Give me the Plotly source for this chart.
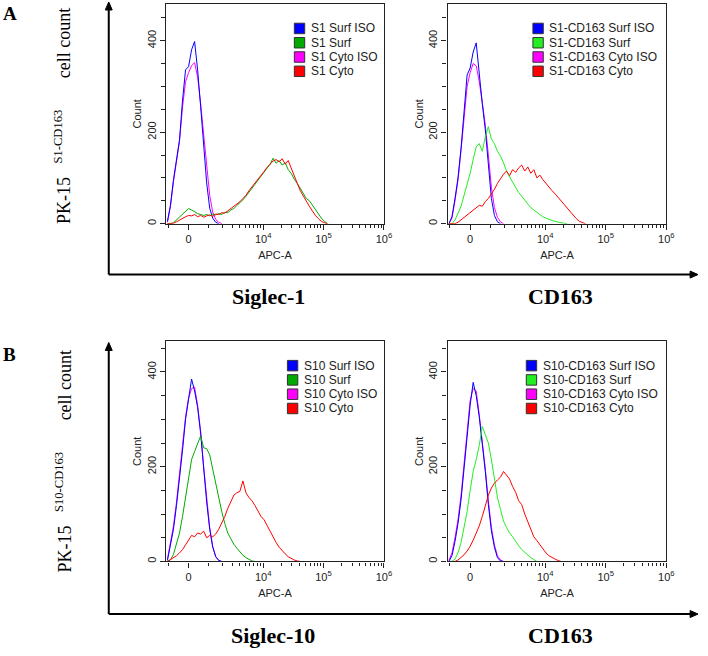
import math
import plotly.graph_objects as go

W, H = 708, 656

# ---------------- data ----------------
# histogram bin positions in biexponential display units (1 unit ~ 1 decade, 0 = zero fluorescence)
bins = [-0.35, -0.30, -0.25, -0.20, -0.15, -0.10, -0.05, 0.00, 0.05, 0.10,
        0.15, 0.20, 0.25, 0.30, 0.35, 0.40, 0.45, 0.50, 0.55, 0.60,
        0.65, 0.70, 0.75, 0.80, 0.85, 0.90, 0.95, 1.00, 1.05, 1.10,
        1.15, 1.20, 1.25, 1.30, 1.35, 1.40, 1.45, 1.50, 1.55, 1.60,
        1.65, 1.70, 1.75, 1.80, 1.85, 1.90, 1.95, 2.00, 2.05, 2.10,
        2.15, 2.20, 2.25, 2.30, 2.35, 2.40]

# Panel A, Siglec-1
s1_names = ["S1 Surf ISO", "S1 Surf", "S1 Cyto ISO", "S1 Cyto"]
s1_surf_iso = [5, 40, 96, 140, 183, 270, 336, 343, 380, 398, 336, 256, 176, 89, 34, 12, 3, 0]
s1_surf = [0, 0, 2, 8, 15, 22, 28, 33, 30, 26, 22, 20, 18, 20, 17, 21, 19, 22, 20, 25,
           24, 30, 33, 40, 45, 52, 60, 68, 78, 86, 95, 104, 112, 122, 130, 143, 132, 138, 128, 133,
           118, 110, 97, 88, 76, 65, 55, 50, 40, 30, 21, 12, 5, 0]
s1_cyto_iso = [3, 38, 92, 138, 180, 255, 310, 330, 345, 352, 320, 262, 200, 125, 62, 25, 9, 3, 0]
s1_cyto = [0, 0, 1, 4, 8, 12, 15, 18, 17, 20, 15, 18, 14, 17, 19, 16, 21, 20, 24, 23,
           28, 32, 36, 42, 48, 55, 62, 72, 80, 88, 96, 106, 114, 123, 131, 137, 140, 135, 142, 130,
           138, 120, 104, 88, 72, 60, 48, 38, 28, 18, 11, 5, 2, 0]

# Panel A, CD163
s1cd_names = ["S1-CD163 Surf ISO", "S1-CD163 Surf", "S1-CD163 Cyto ISO", "S1-CD163 Cyto"]
s1cd_surf_iso = [0, 15, 55, 100, 165, 245, 325, 340, 375, 395, 320, 262, 205, 135, 55, 18, 4, 0]
s1cd_surf = [0, 0, 8, 22, 38, 62, 85, 110, 140, 168, 175, 158, 190, 212, 185, 175, 158, 148, 133, 115,
             102, 90, 78, 68, 60, 50, 43, 35, 30, 24, 20, 15, 12, 9, 7, 5, 3, 2, 1, 0]
s1cd_cyto_iso = [0, 12, 50, 95, 160, 235, 300, 330, 350, 345, 310, 265, 215, 150, 80, 35, 14, 4, 0]
s1cd_cyto = [0, 0, 0, 3, 8, 14, 18, 25, 30, 35, 40, 38, 48, 55, 65, 75, 88, 98, 108, 115,
             105, 118, 112, 122, 128, 115, 124, 110, 118, 100, 106, 96, 88, 78, 72, 65, 58, 50, 42, 34,
             26, 18, 11, 5, 2, 0]

# Panel B, Siglec-10
s10_names = ["S10 Surf ISO", "S10 Surf", "S10 Cyto ISO", "S10 Cyto"]
s10_surf_iso = [2, 35, 68, 118, 170, 235, 300, 340, 385, 360, 325, 270, 195, 125, 68, 30, 10, 2, 0]
s10_surf = [0, 3, 15, 35, 60, 95, 135, 180, 215, 232, 248, 265, 240, 238, 225, 195, 165, 130, 105, 80,
            60, 48, 36, 28, 20, 13, 8, 4, 1, 0]
s10_cyto_iso = [5, 40, 75, 125, 180, 245, 305, 345, 365, 368, 330, 275, 200, 130, 72, 32, 10, 2, 0]
s10_cyto = [0, 4, 8, 12, 18, 25, 35, 45, 55, 52, 60, 58, 64, 50, 55, 52, 58, 68, 80, 95,
            112, 128, 140, 145, 148, 170, 145, 135, 128, 118, 105, 95, 88, 76, 62, 50, 40, 30, 22, 16,
            10, 6, 3, 1, 0]

# Panel B, CD163
s10cd_names = ["S10-CD163 Surf ISO", "S10-CD163 Surf", "S10-CD163 Cyto ISO", "S10-CD163 Cyto"]
s10cd_surf_iso = [0, 12, 42, 80, 130, 195, 270, 330, 378, 350, 305, 250, 190, 120, 65, 30, 8, 1, 0]
s10cd_surf = [0, 0, 5, 18, 40, 70, 105, 150, 190, 215, 245, 285, 265, 250, 215, 170, 135, 110, 85, 72,
              60, 52, 42, 33, 25, 19, 13, 8, 4, 0]
s10cd_cyto_iso = [2, 18, 50, 88, 140, 205, 280, 340, 365, 360, 310, 255, 195, 128, 72, 35, 12, 3, 0]
s10cd_cyto = [0, 0, 0, 3, 8, 14, 22, 32, 45, 60, 75, 95, 120, 140, 155, 165, 172, 178, 190, 182,
              174, 158, 146, 128, 120, 100, 84, 72, 52, 44, 35, 26, 18, 12, 8, 5, 2, 0]

# axis tick labels (APC-A fluorescence values)
x_major_vals = [0, 1e4, 1e5, 1e6]
x_major_text = ["0", "10<sup>4</sup>", "10<sup>5</sup>", "10<sup>6</sup>"]
x_minor_vals = ([-1000, 1000, 2000, 3000, 4000, 5000, 6000, 7000, 8000, 9000]
                + [20000, 30000, 40000, 50000, 60000, 70000, 80000, 90000]
                + [200000, 300000, 400000, 500000, 600000, 700000, 800000, 900000])
y_major_vals = [0, 200, 400]

row_sup = ["S1-CD163", "S10-CD163"]
col_labels = [["Siglec-1", "CD163"], ["Siglec-10", "CD163"]]
panel_letters = ["A", "B"]

# ---------------- scale ----------------
COFACTOR = 1165.0


def display(v):
    """biexponential (arcsinh) display transform, 1 unit ~ 1 decade"""
    return math.asinh(v / COFACTOR) / math.log(10)


X_RANGE = [-0.372, display(1e6)]

BLUE, MAGENTA, RED = "#0000FF", "#FF00FF", "#FF0000"
GREEN_DARK, GREEN_LIME = "#00AA00", "#22EE22"
INK = "#222222"
SANS = "Arial, Liberation Sans, sans-serif"
SERIF = "Times New Roman, Liberation Serif, serif"


def px(x):
    return x / W


def py(y):
    return 1 - y / H


panels = [
    dict(n=1, left=168, right=388.3, top=4, bottom=224, ymax=480, names=s1_names,
         series=[s1_surf_iso, s1_surf, s1_cyto_iso, s1_cyto], green=GREEN_DARK, box=297.7),
    dict(n=2, left=452.7, right=674, top=4, bottom=224, ymax=480, names=s1cd_names,
         series=[s1cd_surf_iso, s1cd_surf, s1cd_cyto_iso, s1cd_cyto], green=GREEN_LIME, box=539),
    dict(n=3, left=168, right=388.3, top=341.7, bottom=562.3, ymax=465, names=s10_names,
         series=[s10_surf_iso, s10_surf, s10_cyto_iso, s10_cyto], green=GREEN_DARK, box=290.7),
    dict(n=4, left=452.7, right=674, top=341.7, bottom=562.3, ymax=465, names=s10cd_names,
         series=[s10cd_surf_iso, s10cd_surf, s10cd_cyto_iso, s10cd_cyto], green=GREEN_LIME, box=532.3),
]

fig = go.Figure()
layout = dict(width=W, height=H, margin=dict(l=0, r=0, t=0, b=0),
              paper_bgcolor="white", plot_bgcolor="white", showlegend=False)
shapes, annotations = [], []

for p in panels:
    n = p["n"]
    xs = "x" if n == 1 else f"x{n}"
    ys = "y" if n == 1 else f"y{n}"
    colors = [BLUE, p["green"], MAGENTA, RED]
    # draw order: cyto iso, surf iso, surf, cyto
    for idx in [2, 0, 1, 3]:
        counts = p["series"][idx]
        fig.add_trace(go.Scatter(x=bins[:len(counts)], y=counts, mode="lines",
                                 name=p["names"][idx], xaxis=xs, yaxis=ys,
                                 line=dict(color=colors[idx], width=1)))
    xkey = "xaxis" if n == 1 else f"xaxis{n}"
    ykey = "yaxis" if n == 1 else f"yaxis{n}"
    layout[xkey] = dict(
        domain=[px(p["left"]), px(p["right"])], range=X_RANGE, anchor=ys,
        showline=True, linecolor=INK, linewidth=1.2, mirror=True,
        ticks="outside", ticklen=5, tickwidth=1, tickcolor=INK,
        tickmode="array", tickvals=[display(v) for v in x_major_vals], ticktext=x_major_text,
        tickfont=dict(family=SANS, size=11, color=INK),
        minor=dict(tickmode="array", tickvals=[display(v) for v in x_minor_vals],
                   ticks="outside", ticklen=3, tickcolor=INK, tickwidth=1, showgrid=False),
        showgrid=False, zeroline=False, fixedrange=True,
        title=dict(text="APC-A", font=dict(family=SANS, size=11, color=INK), standoff=7))
    layout[ykey] = dict(
        domain=[py(p["bottom"]), py(p["top"])], range=[0, p["ymax"]], anchor=xs,
        showline=True, linecolor=INK, linewidth=1.2, mirror=True,
        ticks="outside", ticklen=5, tickwidth=1, tickcolor=INK,
        tickmode="array", tickvals=y_major_vals, tickangle=-90,
        tickfont=dict(family=SANS, size=11, color=INK),
        minor=dict(dtick=50, ticks="outside", ticklen=4, tickcolor=INK, tickwidth=1, showgrid=False),
        showgrid=False, zeroline=False, fixedrange=True,
        title=dict(text="Count", font=dict(family=SANS, size=11, color=INK), standoff=1))
    # legend (colour boxes + names)
    for i, name in enumerate(p["names"]):
        cy = p["top"] + 24.5 + 14.3 * i
        shapes.append(dict(type="rect", xref="paper", yref="paper",
                           x0=px(p["box"]), x1=px(p["box"] + 10.5),
                           y0=py(cy + 5.25), y1=py(cy - 5.25),
                           fillcolor=colors[i], line=dict(color="#333333", width=1)))
        annotations.append(dict(text=name, xref="paper", yref="paper",
                                x=px(p["box"] + 14.5), y=py(cy), xanchor="left", yanchor="middle",
                                showarrow=False, font=dict(family=SANS, size=12, color=INK)))

# outer L-shaped axes with arrows, row labels and column labels
rows = [dict(top=2, base=275, label_y=116, col_y=297, letter_y=14, col_x=[272, 567]),
        dict(top=343, base=615, label_y=462, col_y=636, letter_y=355, col_x=[276, 567])]
for r, row in enumerate(rows):
    shapes.append(dict(type="line", xref="paper", yref="paper", x0=px(110), x1=px(110),
                       y0=py(row["base"]), y1=py(row["top"] + 6), line=dict(color="black", width=2)))
    shapes.append(dict(type="line", xref="paper", yref="paper", x0=px(110), x1=px(699),
                       y0=py(row["base"]), y1=py(row["base"]), line=dict(color="black", width=2)))
    shapes.append(dict(type="path", xref="paper", yref="paper",
                       path=f"M {px(110)},{py(row['top'])} L {px(106.5)},{py(row['top'] + 8)} "
                            f"L {px(113.5)},{py(row['top'] + 8)} Z",
                       fillcolor="black", line=dict(color="black", width=1)))
    shapes.append(dict(type="path", xref="paper", yref="paper",
                       path=f"M {px(706)},{py(row['base'])} L {px(698)},{py(row['base'] - 3.5)} "
                            f"L {px(698)},{py(row['base'] + 3.5)} Z",
                       fillcolor="black", line=dict(color="black", width=1)))
    label = "PK-15 &nbsp;&nbsp;<sup>" + row_sup[r] + "</sup>" + "&nbsp;" * 7 + "cell count"
    annotations.append(dict(text=label, xref="paper", yref="paper", x=px(64), y=py(row["label_y"]),
                            textangle=-90, showarrow=False, xanchor="center", yanchor="middle",
                            font=dict(family=SERIF, size=18, color="black")))
    annotations.append(dict(text=panel_letters[r], xref="paper", yref="paper", x=px(10), y=py(row["letter_y"]),
                            showarrow=False, xanchor="center", yanchor="middle",
                            font=dict(family=SERIF, size=19, color="black", weight="bold")))
    for c, cx in enumerate(row["col_x"]):
        annotations.append(dict(text=col_labels[r][c], xref="paper", yref="paper", x=px(cx), y=py(row["col_y"]),
                                showarrow=False, xanchor="center", yanchor="middle",
                                font=dict(family=SERIF, size=22, color="black", weight="bold")))

layout["shapes"] = shapes
layout["annotations"] = annotations
fig.update_layout(**layout)
fig.write_html("out.html", config={"displayModeBar": False},
               post_script="document.body.style.margin='0px';document.body.style.overflow='hidden';")
